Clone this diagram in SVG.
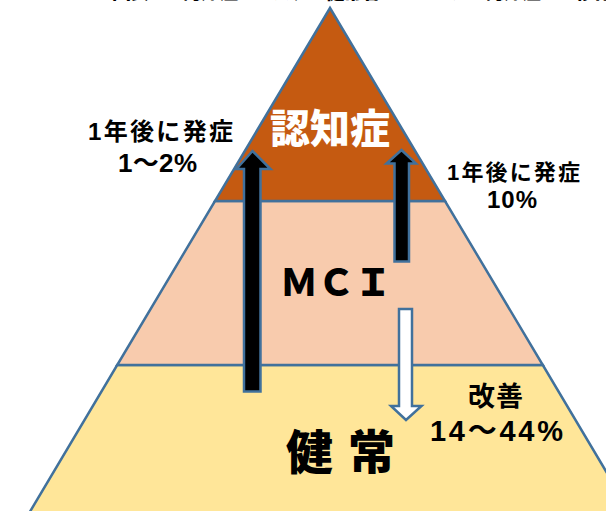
<svg xmlns="http://www.w3.org/2000/svg" width="606" height="511" viewBox="0 0 606 511">
  <style>
    .tier { stroke: #41719C; stroke-width: 2.5; stroke-linejoin: miter; }
    .arrow { stroke: #41719C; stroke-width: 2.5; stroke-linejoin: miter; }
    .lbl { font-family: "Liberation Sans", "Noto Sans CJK JP", sans-serif; font-weight: bold; fill: #000; }
    .jp { font-family: "Noto Sans CJK JP", sans-serif; font-weight: 900; }
  </style>
  <rect width="606" height="511" fill="#FFFFFF"/>

  <text class="jp" x="112" y="-1" font-size="19" fill="#000" textLength="500">図表１　認知症のリスク　健常者・ＭＣＩから認知症への移行</text>

  <g id="tier-healthy">
    <polygon class="tier" fill="#FFE699" points="117.2,365 542.8,365 632,515 28,515"/>
  </g>
  <g id="tier-mci">
    <polygon class="tier" fill="#F8CBAD" points="215,201 445,201 542.8,365 117.2,365"/>
  </g>
  <g id="tier-dementia">
    <polygon class="tier" fill="#C55A11" points="330,8 445,201 215,201"/>
  </g>

  <g id="connectors">
    <polygon class="arrow" fill="#000000" points="244,391.5 244,169 236.5,169 252.5,151 270.5,169 260.5,169 260.5,391.5"/>
    <polygon class="arrow" fill="#000000" points="394.5,261.5 394.5,163.5 386.5,163.5 401.5,150 416,163.5 409,163.5 409,261.5"/>
    <polygon class="arrow" fill="#FFFFFF" points="399,309 412,309 412,406 421.5,406 406,420 391,406 399,406"/>
  </g>

  <g id="label-dementia">
    <text class="jp" x="330" y="143" font-size="40" fill="#FFFFFF" text-anchor="middle">認知症</text>
  </g>
  <g id="label-mci">
    <text class="jp" x="336" y="296" font-size="37" fill="#000" text-anchor="middle">ＭＣＩ</text>
  </g>
  <g id="label-healthy">
    <text class="jp" x="286" y="469" font-size="47" fill="#000" textLength="109">健 常</text>
  </g>

  <g id="note-left">
    <text class="lbl" x="88" y="140" font-size="24" textLength="145">1年後に発症</text>
    <text class="lbl" x="118" y="172" font-size="26" textLength="79">1～2%</text>
  </g>
  <g id="note-right">
    <text class="lbl" x="447" y="180" font-size="22" textLength="133">1年後に発症</text>
    <text class="lbl" x="487" y="208" font-size="24" textLength="50">10%</text>
  </g>
  <g id="note-improve">
    <text class="lbl" x="468" y="406" font-size="27" textLength="55">改善</text>
    <text class="lbl" x="430" y="441" font-size="29" textLength="133">14～44%</text>
  </g>
</svg>
